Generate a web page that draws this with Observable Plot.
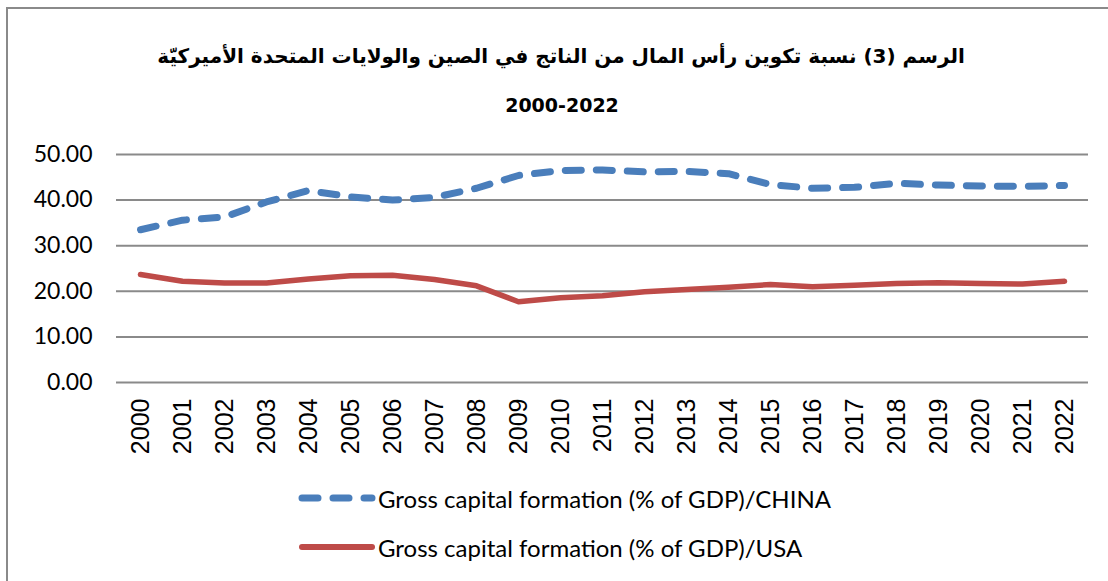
<!DOCTYPE html>
<html>
<head>
<meta charset="utf-8">
<script src="https://cdn.jsdelivr.net/npm/d3@7"></script>
<script src="https://cdn.jsdelivr.net/npm/@observablehq/plot@0.6"></script>
<style>
  html, body { margin: 0; padding: 0; background: #fff; }
  #wrap { position: relative; width: 1108px; height: 581px; overflow: hidden; background: #fff; }
  #frame { position: absolute; left: 6px; top: 7px; width: 1120px; height: 600px; border: 2px solid #8a8a8a; box-sizing: border-box; }
  #title { position: absolute; left: 0; width: 1122px; top: 44px; text-align: center; font-family: "DejaVu Sans", "Noto Sans", sans-serif; font-size: 20px; font-weight: bold; color: #000; direction: rtl; }
  #subtitle { position: absolute; left: 0; width: 1124px; top: 94px; text-align: center; font-family: "DejaVu Sans", sans-serif; font-size: 19px; font-weight: bold; color: #000; }
  #chart { position: absolute; left: 0; top: 130px; }
  .leg { position: absolute; left: 296px; height: 30px; display: flex; align-items: center; font-family: Lato, "Open Sans", sans-serif; font-size: 24px; color: #000; }
  .leg svg { margin-right: 2px; }
</style>
</head>
<body>
<div id="wrap">
  <div id="frame"></div>
  <div id="title">الرسم (3) نسبة تكوين رأس المال من الناتج في الصين والولايات المتحدة الأميركيّة</div>
  <div id="subtitle">2000-2022</div>
  <div id="chart"></div>
  <div class="leg" style="top:483px"><svg width="80" height="14"><line x1="6" y1="7" x2="76" y2="7" stroke="#4a7ebb" stroke-width="7" stroke-linecap="round" stroke-dasharray="16,15"/></svg><span>Gross capital formation (% of GDP)/CHINA</span></div>
  <div class="leg" style="top:532px"><svg width="80" height="14"><line x1="6" y1="7" x2="76" y2="7" stroke="#be4b48" stroke-width="6" stroke-linecap="round"/></svg><span>Gross capital formation (% of GDP)/USA</span></div>
</div>
<script>
const years = ["2000","2001","2002","2003","2004","2005","2006","2007","2008","2009","2010","2011","2012","2013","2014","2015","2016","2017","2018","2019","2020","2021","2022"];
const china = [33.5, 35.6, 36.3, 39.6, 42.1, 40.7, 40.0, 40.6, 42.6, 45.4, 46.5, 46.6, 46.2, 46.3, 45.8, 43.4, 42.6, 42.8, 43.7, 43.3, 43.1, 43.0, 43.2];
const usa = [23.7, 22.2, 21.8, 21.8, 22.7, 23.4, 23.5, 22.6, 21.2, 17.7, 18.6, 19.0, 19.9, 20.4, 20.9, 21.5, 21.0, 21.3, 21.7, 21.9, 21.7, 21.6, 22.2];
const yTicks = [0, 10, 20, 30, 40, 50];

const chinaData = years.map((y, i) => ({year: y, value: china[i]}));
const usaData = years.map((y, i) => ({year: y, value: usa[i]}));

const plot = Plot.plot({
  width: 1108,
  height: 340,
  marginLeft: 116,
  marginRight: 20,
  marginTop: 24,
  marginBottom: 88,
  style: {fontFamily: "Lato, sans-serif", fontSize: "23px", color: "#000", background: "transparent"},
  x: {type: "point", domain: years, padding: 0.5, label: null},
  y: {domain: [0, 50], label: null},
  marks: [
    Plot.ruleY(yTicks, {stroke: "#8a8a8a", strokeWidth: 2, strokeOpacity: 1}),
    Plot.axisY({ticks: yTicks, tickFormat: d => d.toFixed(2), tickSize: 0, tickPadding: 24, fontSize: 23, fontFamily: "Lato, sans-serif", label: null}),
    Plot.axisX({tickRotate: -90, tickSize: 0, tickPadding: 16, fontSize: 25, fontFamily: "Liberation Sans, Arial, sans-serif", label: null}),
    Plot.line(usaData, {x: "year", y: "value", stroke: "#be4b48", strokeWidth: 5.5, strokeLinejoin: "round", strokeLinecap: "round"}),
    Plot.line(chinaData, {x: "year", y: "value", stroke: "#4a7ebb", strokeWidth: 7, strokeDasharray: "16,15", strokeLinecap: "round", strokeLinejoin: "round"})
  ]
});
document.getElementById("chart").appendChild(plot);
</script>
</body>
</html>
